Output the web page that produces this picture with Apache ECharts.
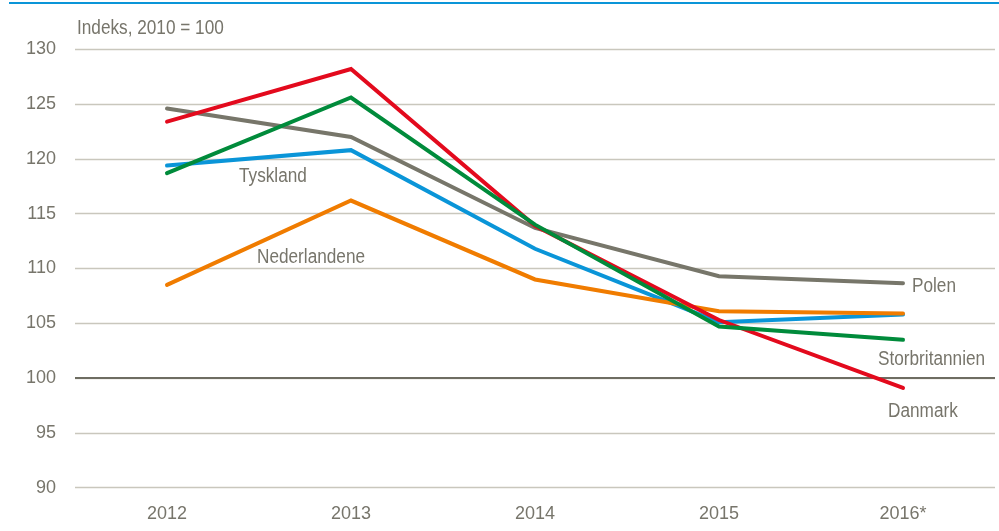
<!DOCTYPE html>
<html><head><meta charset="utf-8">
<script src="https://cdn.jsdelivr.net/npm/echarts@6/dist/echarts.min.js"></script>
<style>html,body{margin:0;padding:0;background:#fff}#c{width:999px;height:531px}</style>
</head><body><div id="c"></div>
<script>
const categories = ['2012','2013','2014','2015','2016*'];
const polen = [124.6, 122.0, 113.7, 109.3, 108.65];
const tyskland = [119.4, 120.8, 111.8, 105.1, 105.8];
const nederlandene = [108.5, 116.2, 109.0, 106.1, 105.9];
const danmark = [123.4, 128.2, 113.9, 105.3, 99.1];
const storbritannien = [118.7, 125.6, 114.0, 104.7, 103.5];
const yTicks = [90, 95, 100, 105, 110, 115, 120, 125, 130];

const FONT = '"Liberation Sans Narrow", "Arial Narrow", "Liberation Sans", sans-serif';
const TXT = '#77756b';
const chart = echarts.init(document.getElementById('c'));
function line(name, data, color, z) {
  return { name, type: 'line', data, symbol: 'none', z,
    lineStyle: { color, width: 4, cap: 'round', join: 'miter' }, itemStyle: { color } };
}
const series = [
  line('Polen', polen, '#77766a', 2),
  line('Tyskland', tyskland, '#0a95d8', 3),
  line('Nederlandene', nederlandene, '#f07c00', 4),
  line('Danmark', danmark, '#e30a1d', 5),
  line('Storbritannien', storbritannien, '#008b3b', 6)
];
series[0].markLine = { silent: true, symbol: 'none', label: { show: false },
  lineStyle: { color: '#6e6d62', width: 2, type: 'solid' }, data: [{ yAxis: 100 }], z: 1 };
function txt(text, x, y) {
  return { type: 'text', x, y, scaleX: 0.86, scaleY: 1,
    style: { text, fill: TXT, font: '20px ' + FONT, textVerticalAlign: 'middle' } };
}
chart.setOption({
  animation: false,
  textStyle: { fontFamily: FONT },
  grid: { left: 75, right: 4, top: 49.3, bottom: 43.3 },
  xAxis: { type: 'category', data: categories, boundaryGap: true,
    axisLine: { show: false }, axisTick: { show: false },
    axisLabel: { color: TXT, fontSize: 18, fontFamily: FONT, margin: 17 } },
  yAxis: { type: 'value', min: yTicks[0], max: yTicks[yTicks.length-1], interval: 5,
    axisLine: { show: false }, axisTick: { show: false },
    axisLabel: { color: TXT, fontSize: 18, fontFamily: FONT, margin: 19 },
    splitLine: { lineStyle: { color: '#c9c7bd', width: 1.3 } } },
  series,
  graphic: [
    { type: 'rect', shape: { x: 9, y: 2, width: 990, height: 2 }, style: { fill: '#0a95d8' } },
    txt('Indeks, 2010 = 100', 77, 28),
    txt('Tyskland', 239, 176),
    txt('Nederlandene', 257, 257),
    txt('Polen', 912, 286),
    txt('Storbritannien', 878, 359),
    txt('Danmark', 888, 411)
  ]
});
</script></body></html>
